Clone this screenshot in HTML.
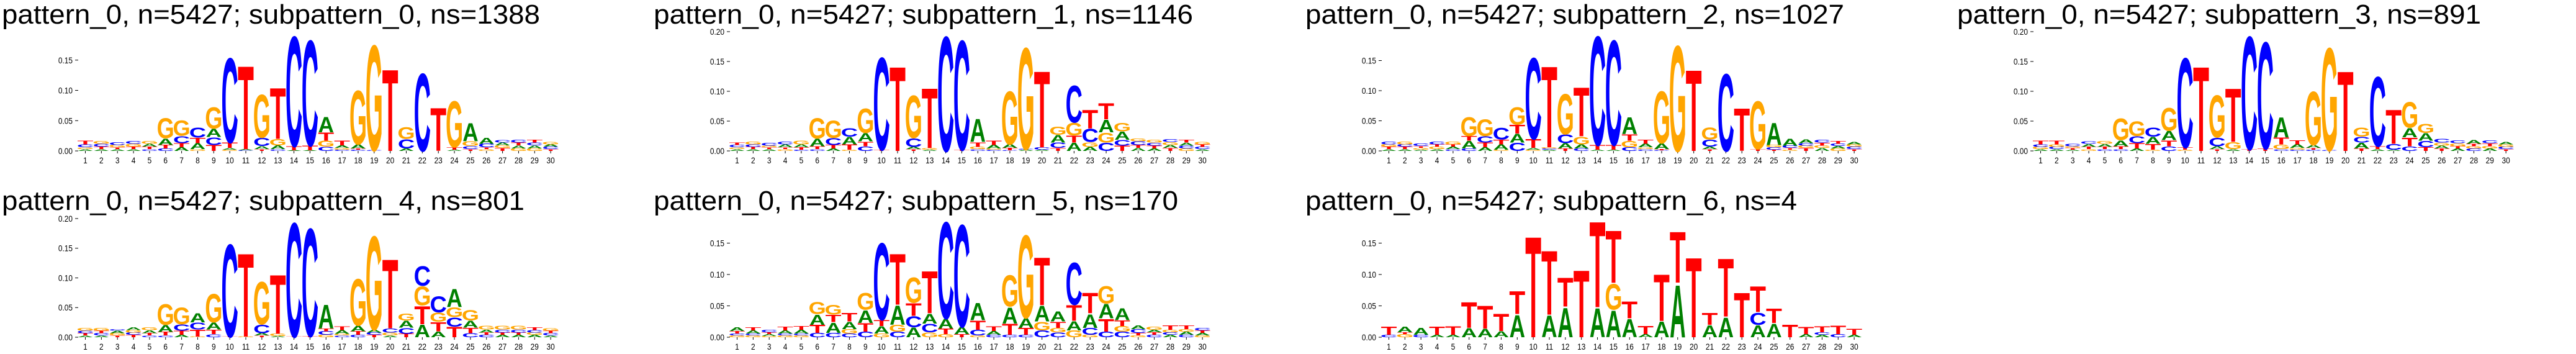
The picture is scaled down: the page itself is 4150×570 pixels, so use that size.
<!DOCTYPE html>
<html><head><meta charset="utf-8">
<style>
html,body{margin:0;padding:0;background:#fff;}
svg{display:block;}
</style></head>
<body>
<svg id="chart" width="4150" height="570" viewBox="0 0 4150 570" xmlns="http://www.w3.org/2000/svg"></svg>
<script>
// ---- data (letter + height in thousandths, bottom-to-top per position) ----
const positions = [1,2,3,4,5,6,7,8,9,10,11,12,13,14,15,16,17,18,19,20,21,22,23,24,25,26,27,28,29,30];
const yTickValues = [0, 0.05, 0.10, 0.15, 0.20];
const yTickLabels = ["0.00","0.05","0.10","0.15","0.20"];
const subpatternNames = ["subpattern_0","subpattern_1","subpattern_2","subpattern_3","subpattern_4","subpattern_5","subpattern_6"];
const subpatternCounts = [1388,1146,1027,891,801,170,4];
const logo0 = ["A3 G3 C5 T6","A3 T4 C5 G5","A3 T3 G4 C5","A3 T4 G5 C5","C3 T4 A5 G5","C4 T6 A11 G35","A6 T7 C12 G26","G3 A10 T9 C17","T10 C13 A14 G37","G2 A3 T9 C146","C1 A2 T144","T3 A5 C14 G74","C3 A6 G11 T88","A1 T7 C190","A1 T8 C182","C7 G10 T14 A26","C2 G3 A4 T8","C2 T2 A7 G93","C1 G182","T141","A4 C16 G20","C134","T74","A2 T4 G80","T3 C5 G8 A31","G3 T3 C6 A10","T5 G4 A5 C4","G4 A5 T5 C5","G4 A5 C5 T5","T3 C4 A4 G4"];
const logo1 = ["A3 G3 C4 T4","A3 T4 C4 G5","A3 T3 G3 C5","G3 T3 A5 C5","C2 T4 A5 G6","C3 T5 A13 G36","A4 T6 C12 G30","G2 T9 A13 C15","C8 T8 A14 G43","T2 C162","T148","T3 A4 C15 G75","A2 G3 T105","C201","T2 C192","C3 G4 T8 A40","C2 G2 A6 T8","C1 T4 A6 G93","A2 C1 G178","A2 C4 T134","T5 C9 A13 G14","A14 T12 G22 C65","A7 G8 C23 T32","C14 G17 A22 T28","T9 C10 A14 G15","A5 T5 C6 G5","A4 T5 C5 G5","T5 A5 G5 C5","G4 C5 A5 T5","A3 C4 T4 G4"];
const logo2 = ["A3 T4 G4 C5","A3 T4 C4 G5","A2 G3 T3 C4","A3 G4 T4 C5","C3 A4 T4 G5","C4 A13 T8 G33","A6 T8 C11 G29","G2 A9 T8 C20","C14 A15 T15 G30","G2 A3 T15 C141","A2 C2 G2 T141","T4 A9 C15 G70","C4 A7 G13 T85","A2 T8 C189","A2 T8 C182","C6 G11 T11 A29","C3 G3 A6 T7","C1 T2 A10 G90","G183","T141","T3 A4 C12 G21","C134","T74","T3 G83","T2 C4 G4 A38","G2 T3 C4 A12","T5 G4 C4 A6","A5 G4 T5 C5","G4 A4 C4 T5","T3 C4 G4 A4"];
const logo3 = ["A3 G4 C4 T6","A3 C4 G4 T6","A2 T3 G3 C4","G3 T4 A5 C4","C3 T4 A5 G5","C3 T5 A10 G38","A4 T9 C12 G26","G2 T10 A12 C16","C8 T10 A16 G40","G2 T4 C157","T148","T3 A5 C15 G74","A3 G12 T94","T3 C198","T4 C187","C3 G8 T12 A35","C2 G3 A6 T7","C2 T3 A5 G94","C1 G180","T140","T4 A10 C10 G16","A3 T5 C122","A2 C10 T60","C8 T15 A16 G45","T6 C11 A13 G16","T4 A5 G5 C6","A4 T4 G5 C5","C4 G4 T4 A6","A4 G4 T5 C5","T3 C4 G4 A4"];
const logo4 = ["A3 T4 C4 G5","A3 C4 T4 G5","T3 G4 A4 C3","T4 C4 G4 A5","C3 T4 A5 G5","C3 T6 A12 G37","A4 T7 C11 G30","G1 T12 C12 A16","C5 T8 A12 G50","T1 C163","G1 T147","T3 A4 C15 G75","A2 G4 T104","T1 C201","T2 C190","G4 C6 T5 A42","C3 G3 A6 T6","C4 T6 A10 G82","T4 C4 A5 G165","A3 G5 C7 T122","T6 C10 A12 G12","A22 T32 G33 C35","A10 T16 G16 C28","T18 C16 G17 A32","C7 T9 A12 G18","C4 T4 A5 G6","A4 T4 C5 G6","A4 T4 C5 G6","A4 G4 C4 T5","A3 C4 T4 G4"];
const logo5 = ["G3 C3 T4 A6","G3 C3 A5 T5","G2 A3 T3 C4","G3 C3 A5 T6","G3 C3 A6 T6","C7 T13 A17 G20","C7 A17 T12 G16","C6 G7 A12 T14","C9 T14 A21 G28","G6 A12 T10 C128","C9 G11 A32 T85","A16 C18 T21 G42","G8 C14 A16 T70","G5 T9 A16 C161","T5 A12 C170","G3 C9 T15 A29","C4 A6 T8","C4 T18 A27 G52","C4 T11 A16 G138","C11 G14 A26 T80","C8 G7 T10 A17","G11 A15 T26 C70","G4 C11 A23 T34","C9 T21 A24 G29","C9 G9 T9 A20","G3 T4 C6 A6","C4 T4 A4 G5","A4 C4 G4 T7","C4 A5 G4 T6","G3 A4 T4 C4"];
const logo6 = ["C4 T13","G5 T3 A9","C4 A11","A4 T13","A4 T14","A15 T43","A14 T38","A10 T29","A37 T38","T168","A36 T107","A49 T48","T112","A48 T143","A44 G43 T87","A30 T28","A5 T13","A26 T78","A87 T85","T133","A20 T20","A33 T97","T74","A20 C20 T43","A23 T24","T21","A5 T12","A4 C4 T10","C5 T14","A4 T10"];
const logos = [logo0, logo1, logo2, logo3, logo4, logo5, logo6];

// ---- layout ----
const NS = "http://www.w3.org/2000/svg";
const svg = document.getElementById("chart");
const panelX = [0,1050,2100,3150,0,1050,2100];
const panelY = [0,0,0,0,300,300,300];
const COLORS = {A:"#008000", C:"#0000ff", G:"#ffa500", T:"#ff0000"};
const INK = {A:71, C:66, G:69, T:59};
const STEP = 25.85, FIRST = 137.5, BASE = 243, PLOT_H = 193, GLYPH_W = 25;
const TITLE_W = [867,869,868,844,842,845,792];

function mk(tag, attrs){ const e=document.createElementNS(NS,tag); for(const k in attrs) e.setAttribute(k, attrs[k]); return e; }
function parseCol(s){ return s.trim().split(/\s+/).map(t=>[t[0], parseFloat(t.slice(1))/1000]); }

logos.forEach((logo, p) => {
  const px = panelX[p], py = panelY[p];
  const g = mk("g", {});
  
  
  svg.appendChild(g);

  const cols = logo.map(parseCol);
  const totals = cols.map(c => c.reduce((a,b)=>a+b[1],0));
  const maxT = Math.max(...totals);
  const yScale = v => py + BASE - v * PLOT_H / maxT;
  const xScale = i => px + FIRST + (i-1) * STEP;

  // title
  const title = mk("text", {x: px+3, y: py+38, "font-family": "Liberation Sans, sans-serif", "font-size": 44, fill: "#000", textLength: TITLE_W[p], lengthAdjust: "spacingAndGlyphs"});
  
  
  title.textContent = "pattern_0, n=5427; " + subpatternNames[p] + ", ns=" + subpatternCounts[p];
  g.appendChild(title);

  // y ticks
  yTickValues.forEach((v, k) => {
    if (v > maxT + 1e-9) return;
    const y = yScale(v);
    const tk = mk("line", {x1: px+121, x2: px+126, y1: y, y2: y, stroke: "#000", "stroke-width": 1});
    
    
    g.appendChild(tk);
    const lb = mk("text", {x: px+117, y: y+5, "text-anchor": "end", "font-family": "Liberation Sans, sans-serif", "font-size": 14, fill: "#000", transform: `translate(${px+117},0) scale(0.85,1) translate(${-(px+117)},0)`});
    
    
    lb.textContent = yTickLabels[k];
    g.appendChild(lb);
  });

  // x ticks
  positions.forEach(pos => {
    const x = xScale(pos);
    const tk = mk("line", {x1: x, x2: x, y1: py+BASE, y2: py+BASE+4, stroke: "#000", "stroke-width": 1});
    
    
    g.appendChild(tk);
    const lb = mk("text", {x: x, y: py+263, "text-anchor": "middle", "font-family": "Liberation Sans, sans-serif", "font-size": 14, fill: "#000", transform: `translate(${x},0) scale(0.85,1) translate(${-x},0)`});
    
    
    lb.textContent = String(pos);
    g.appendChild(lb);
  });

  // letters
  cols.forEach((col, i) => {
    const pos = positions[i];
    let acc = 0;
    col.forEach(([L, v]) => {
      const yb = yScale(acc);
      const yt = yScale(acc + v);
      acc += v;
      const h = yb - yt;
      if (h <= 0) return;
      const sx = GLYPH_W / INK[L] * 1.0;
      const sy = h / 72.9;
      const t = mk("text", {x: 0, y: 0, "text-anchor": "middle", "font-family": "Liberation Sans, sans-serif", "font-weight": "bold", "font-size": 100, fill: COLORS[L], transform: `translate(${xScale(pos)},${yb}) scale(${sx},${sy})`});
      
      
      t.textContent = L;
      g.appendChild(t);
    });
  });
});
</script>
</body></html>
